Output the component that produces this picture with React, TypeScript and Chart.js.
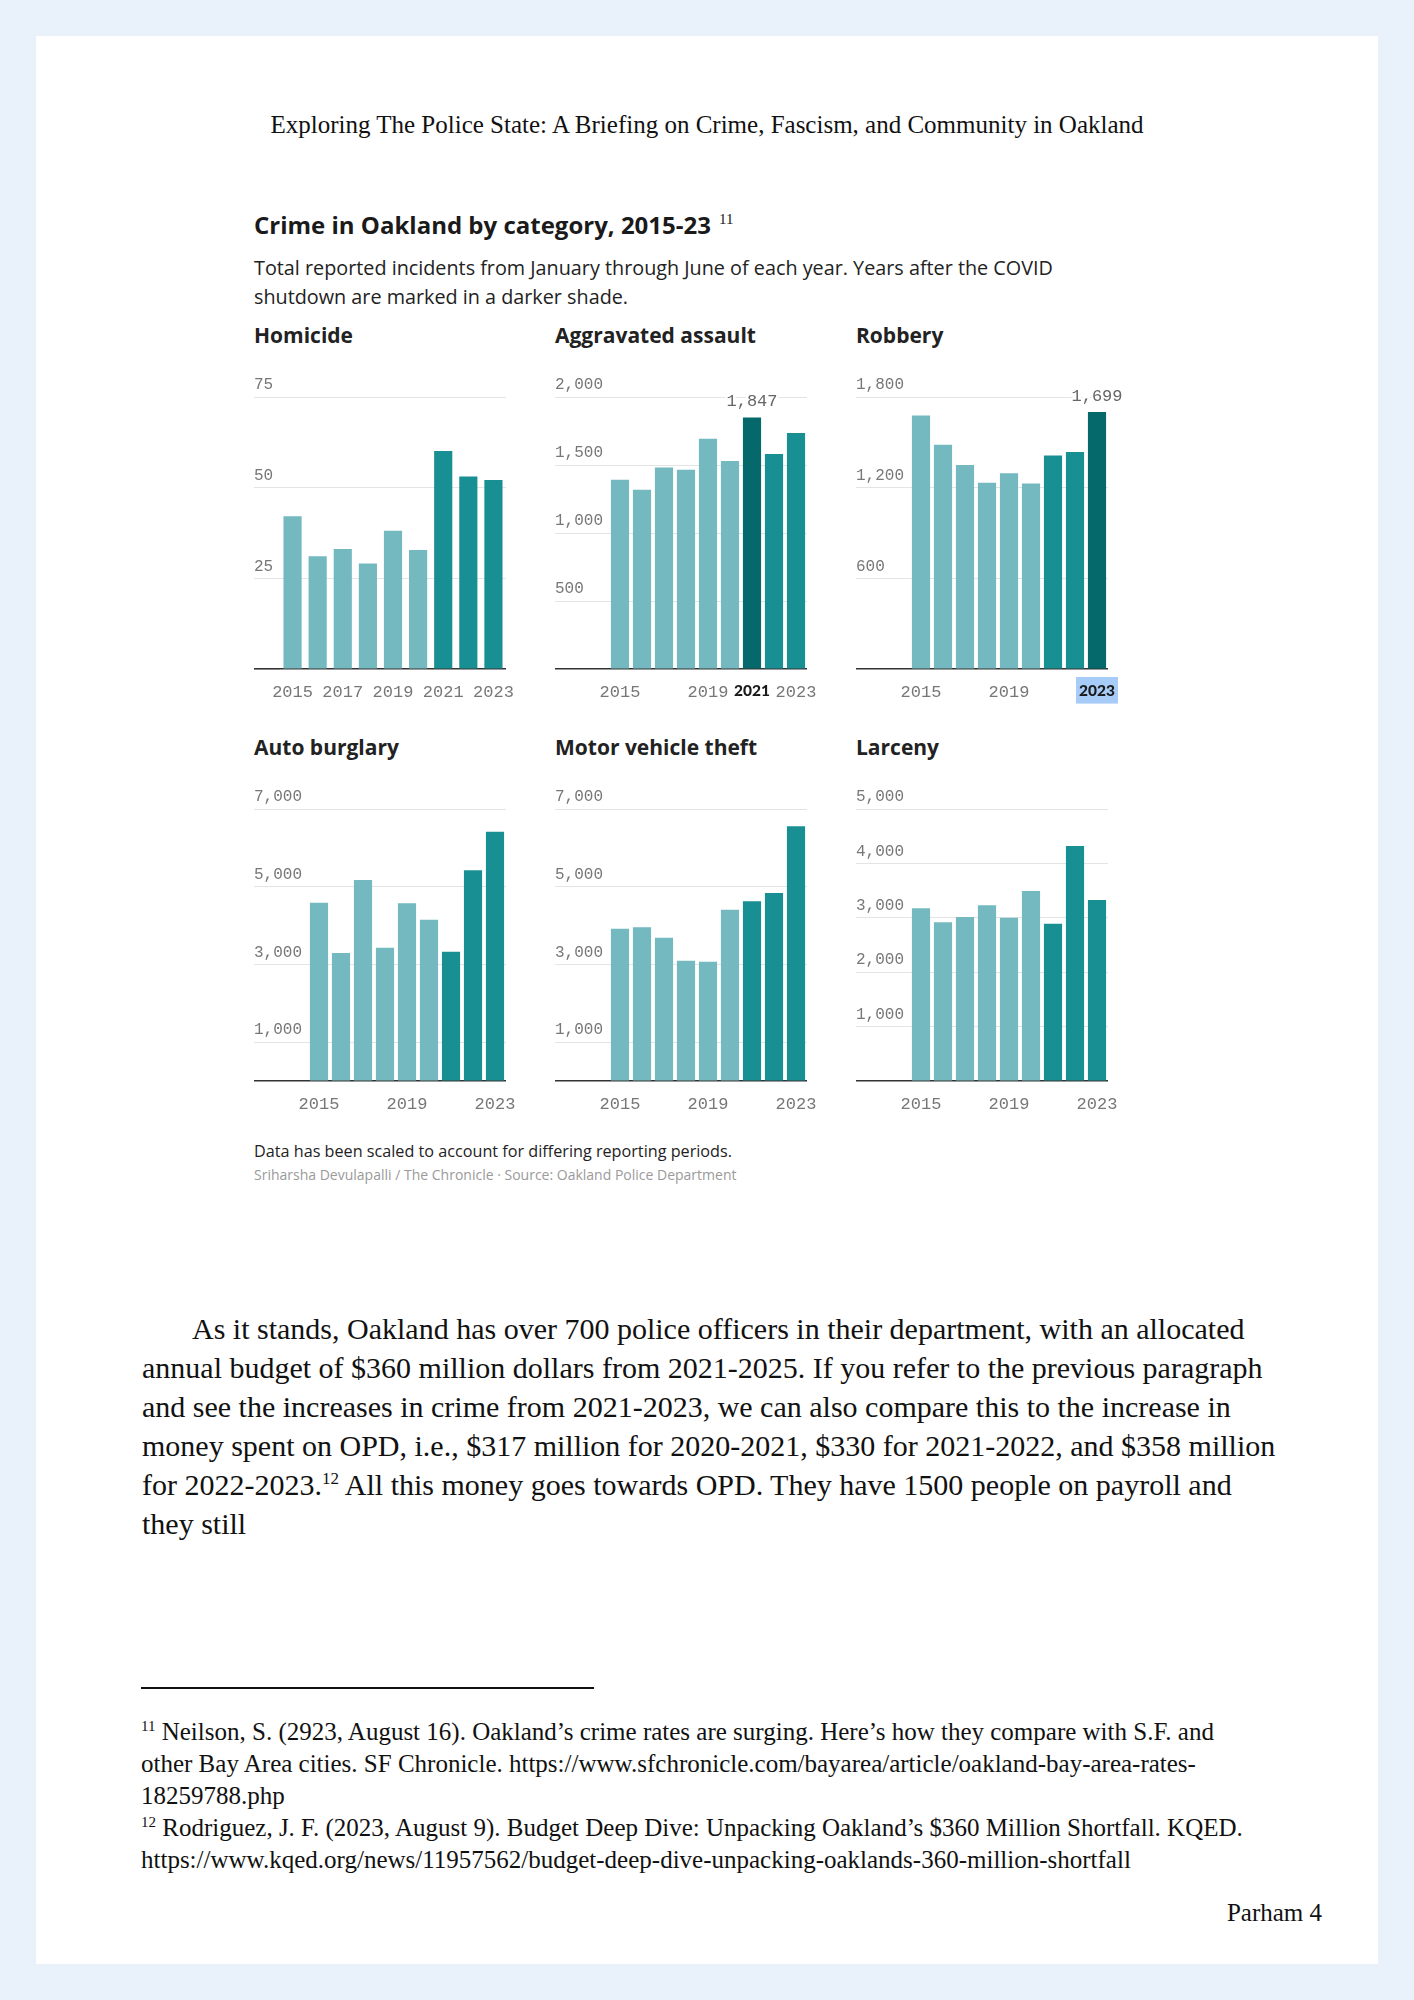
import React, { useEffect, useRef } from 'react';
import { Chart, registerables } from 'chart.js';

Chart.register(...registerables);

// ---------- DATA ----------
const years = ['2015', '2016', '2017', '2018', '2019', '2020', '2021', '2022', '2023'];

const homicide = [42, 31, 33, 29, 38, 32.7, 60, 53, 52];
const aggravatedAssault = [1390, 1316, 1480, 1463, 1691, 1527, 1847, 1578, 1733];
const robbery = [1676, 1482, 1348, 1231, 1293, 1226, 1410, 1434, 1699];
const autoBurglary = [4581, 3286, 5164, 3423, 4564, 4143, 3320, 5413, 6408];
const motorVehicleTheft = [3912, 3946, 3680, 3088, 3063, 4401, 4615, 4830, 6545];
const larceny = [3168, 2911, 3009, 3223, 2996, 3487, 2886, 4314, 3321];

const homicideTicks = [0, 25, 50, 75];
const assaultTicks = [0, 500, 1000, 1500, 2000];
const robberyTicks = [0, 600, 1200, 1800];
const autoTicks = [0, 1000, 3000, 5000, 7000];
const mvtTicks = [0, 1000, 3000, 5000, 7000];
const larcenyTicks = [0, 1000, 2000, 3000, 4000, 5000];

const homicideYearLabels = ['2015', '2017', '2019', '2021', '2023'];
const assaultYearLabels = ['2015', '2019', '2021', '2023'];
const defaultYearLabels = ['2015', '2019', '2023'];

// 0 = before COVID, 1 = after COVID shutdown, 2 = highlighted peak
const homicideShade = [0, 0, 0, 0, 0, 0, 1, 1, 1];
const assaultShade = [0, 0, 0, 0, 0, 0, 2, 1, 1];
const robberyShade = [0, 0, 0, 0, 0, 0, 1, 1, 2];
const autoShade = [0, 0, 0, 0, 0, 0, 1, 1, 1];
const mvtShade = [0, 0, 0, 0, 0, 0, 1, 1, 1];
const larcenyShade = [0, 0, 0, 0, 0, 0, 1, 1, 1];

// ---------- STYLE ----------
const SHADES = ['#73b9bf', '#188f92', '#05686b'];
const MONO = '"Liberation Mono", "DejaVu Sans Mono", monospace';
const SANS = '"Open Sans", Lato, sans-serif';
const BOLDSANS = 'Lato, "Open Sans", sans-serif';
const SERIF = '"Liberation Serif", "Times New Roman", serif';
const CW = 276;
const PLOT_W = 252;
const PAD_TOP = 26;
const PLOT_H = 272;
const XAXIS_H = 40;
const CH = PAD_TOP + PLOT_H + XAXIS_H;

const valueLabelPlugin = {
  id: 'valueLabel',
  afterDatasetsDraw(chart: any, _args: any, opts: any) {
    if (opts == null || opts.index == null || opts.index < 0) return;
    const el = chart.getDatasetMeta(0).data[opts.index];
    const v = chart.data.datasets[0].data[opts.index] as number;
    const txt = v.toLocaleString('en-US');
    const ctx = chart.ctx;
    ctx.save();
    ctx.font = `17px ${MONO}`;
    ctx.textAlign = 'center';
    ctx.textBaseline = 'middle';
    ctx.lineWidth = 5;
    ctx.strokeStyle = '#ffffff';
    ctx.lineJoin = 'round';
    ctx.strokeText(txt, el.x, el.y - 16);
    ctx.fillStyle = '#666666';
    ctx.fillText(txt, el.x, el.y - 16);
    ctx.restore();
  },
};

type PanelDef = {
  title: string;
  values: number[];
  ticks: number[];
  yearLabels: string[];
  shades: number[];
  left: number;
  gridTop: number;
  axisW: number;
  boldYear?: string;
  highlightYear?: boolean;
  annotate?: number;
};

const ROW1 = 397;
const ROW2 = 809;

const panels: PanelDef[] = [
  { title: 'Homicide', values: homicide, ticks: homicideTicks, yearLabels: homicideYearLabels, shades: homicideShade, left: 254, gridTop: ROW1, axisW: 26 },
  { title: 'Aggravated assault', values: aggravatedAssault, ticks: assaultTicks, yearLabels: assaultYearLabels, shades: assaultShade, left: 555, gridTop: ROW1, axisW: 54, boldYear: '2021', annotate: 6 },
  { title: 'Robbery', values: robbery, ticks: robberyTicks, yearLabels: defaultYearLabels, shades: robberyShade, left: 856, gridTop: ROW1, axisW: 54, boldYear: '2023', highlightYear: true, annotate: 8 },
  { title: 'Auto burglary', values: autoBurglary, ticks: autoTicks, yearLabels: defaultYearLabels, shades: autoShade, left: 254, gridTop: ROW2, axisW: 54 },
  { title: 'Motor vehicle theft', values: motorVehicleTheft, ticks: mvtTicks, yearLabels: defaultYearLabels, shades: mvtShade, left: 555, gridTop: ROW2, axisW: 54 },
  { title: 'Larceny', values: larceny, ticks: larcenyTicks, yearLabels: defaultYearLabels, shades: larcenyShade, left: 856, gridTop: ROW2, axisW: 54 },
];

function BarPanel({ p }: { p: PanelDef }) {
  const ref = useRef<HTMLCanvasElement>(null);
  useEffect(() => {
    if (!ref.current) return;
    const maxV = p.ticks[p.ticks.length - 1];
    const chart = new Chart(ref.current, {
      type: 'bar',
      data: {
        labels: years,
        datasets: [
          {
            data: p.values,
            backgroundColor: p.shades.map((s) => SHADES[s]),
            borderWidth: 0,
            barThickness: 17.5,
          },
        ],
      },
      plugins: [valueLabelPlugin],
      options: {
        responsive: false,
        animation: false,
        devicePixelRatio: 1,
        layout: { padding: { top: PAD_TOP, right: CW - PLOT_W, left: 0, bottom: 0 } },
        plugins: {
          legend: { display: false },
          tooltip: { enabled: false },
          // @ts-ignore
          valueLabel: { index: p.annotate ?? -1 },
        },
        scales: {
          x: {
            type: 'category',
            offset: true,
            grid: { display: false },
            border: { display: false },
            afterFit: (scale: any) => {
              scale.height = XAXIS_H;
            },
            ticks: {
              autoSkip: false,
              maxRotation: 0,
              minRotation: 0,
              padding: 5,
              callback: (_v: any, i: number) => (p.yearLabels.includes(years[i]) ? years[i] : ''),
              font: (c: any) =>
                p.boldYear && years[c.index] === p.boldYear
                  ? { family: BOLDSANS, size: 15.5, weight: '900' }
                  : { family: MONO, size: 17, weight: 'normal' },
              color: (c: any) => (p.boldYear && years[c.index] === p.boldYear ? '#1a1a1a' : '#777777'),
              showLabelBackdrop: (c: any) => !!(p.highlightYear && years[c.index] === p.boldYear),
              backdropColor: '#a8ccf8',
              backdropPadding: { left: 3, right: 3, top: 5, bottom: 3 },
            } as any,
          },
          y: {
            type: 'linear',
            min: 0,
            max: maxV,
            border: { display: false },
            afterBuildTicks: (scale: any) => {
              scale.ticks = p.ticks.map((v) => ({ value: v }));
            },
            afterFit: (scale: any) => {
              scale.width = p.axisW;
            },
            grid: {
              drawTicks: true,
              tickLength: p.axisW,
              color: (c: any) => (c.tick && c.tick.value === 0 ? '#333333' : '#e4e4e4'),
              lineWidth: (c: any) => (c.tick && c.tick.value === 0 ? 1.6 : 1),
            },
            ticks: {
              crossAlign: 'far',
              padding: 0,
              labelOffset: -12,
              color: '#777777',
              font: { family: MONO, size: 16 },
              callback: (v: any) => (Number(v) === 0 ? '' : Number(v).toLocaleString('en-US')),
            },
          },
        },
      },
    } as any);
    return () => chart.destroy();
  }, []);

  const titleTop = p.gridTop === ROW1 ? 320 : 732;
  return (
    <>
      <div
        style={{
          position: 'absolute',
          left: p.left,
          top: titleTop,
          fontFamily: SANS,
          fontWeight: 700,
          fontSize: 21,
          lineHeight: '30px',
          color: '#222',
          whiteSpace: 'nowrap',
        }}
      >
        {p.title}
      </div>
      <canvas
        ref={ref}
        width={CW}
        height={CH}
        style={{ position: 'absolute', left: p.left, top: p.gridTop - PAD_TOP, width: CW, height: CH }}
      />
    </>
  );
}

const bodyLines = [
  'As it stands, Oakland has over 700 police officers in their department, with an allocated',
  'annual budget of $360 million dollars from 2021-2025. If you refer to the previous paragraph',
  'and see the increases in crime from 2021-2023, we can also compare this to the increase in',
  'money spent on OPD, i.e., $317 million for 2020-2021, $330 for 2021-2022, and $358 million',
];

export default function App() {
  const abs = (o: React.CSSProperties): React.CSSProperties => ({ position: 'absolute', whiteSpace: 'nowrap', ...o });
  return (
    <div style={{ position: 'absolute', left: 0, top: 0, width: 1414, height: 2000, background: '#e9f1fb', overflow: 'hidden' }}>
      <div style={{ position: 'absolute', left: 36, top: 36, width: 1342, height: 1928, background: '#ffffff' }} />

      <div style={abs({ left: 0, width: 1414, top: 109, textAlign: 'center', fontFamily: SERIF, fontSize: 25, lineHeight: '32px', color: '#111' })}>
        Exploring The Police State: A Briefing on Crime, Fascism, and Community in Oakland
      </div>

      <div style={abs({ left: 254, top: 202, fontFamily: SANS, fontWeight: 700, fontSize: 24, lineHeight: '34px', color: '#1a1a1a' })}>
        Crime in Oakland by category, 2015-23
        <span style={{ fontFamily: SERIF, fontWeight: 400, fontSize: 15, verticalAlign: '10px', marginLeft: 8 }}>11</span>
      </div>

      <div style={abs({ left: 254, top: 253, fontFamily: SANS, fontSize: 19.8, lineHeight: '29px', color: '#222' })}>
        Total reported incidents from January through June of each year. Years after the COVID
        <br />
        shutdown are marked in a darker shade.
      </div>

      {panels.map((p) => (
        <BarPanel key={p.title} p={p} />
      ))}

      <div style={abs({ left: 254, top: 1139, fontFamily: SANS, fontSize: 16.2, lineHeight: '24px', color: '#222' })}>
        Data has been scaled to account for differing reporting periods.
      </div>
      <div style={abs({ left: 254, top: 1165, fontFamily: SANS, fontSize: 14, lineHeight: '20px', color: '#9a9a9a' })}>
        Sriharsha Devulapalli / The Chronicle · Source: Oakland Police Department
      </div>

      <div style={abs({ left: 142, top: 1309, fontFamily: SERIF, fontSize: 30, lineHeight: '39px', color: '#111' })}>
        {bodyLines.map((l, i) => (
          <div key={i} style={{ paddingLeft: i === 0 ? 50 : 0 }}>
            {l}
          </div>
        ))}
        <div>
          for 2022-2023.<sup style={{ fontSize: 17, verticalAlign: '11px', lineHeight: 0 }}>12</sup> All this money goes towards OPD. They have 1500 people on payroll and
        </div>
        <div>they still</div>
      </div>

      <div style={{ position: 'absolute', left: 141, top: 1687, width: 453, height: 1.5, background: '#111' }} />

      <div style={abs({ left: 141, top: 1716, fontFamily: SERIF, fontSize: 25, lineHeight: '32px', color: '#111' })}>
        <div>
          <sup style={{ fontSize: 15, verticalAlign: '9px', lineHeight: 0 }}>11</sup> Neilson, S. (2923, August 16). Oakland’s crime rates are surging. Here’s how they compare with S.F. and
        </div>
        <div>other Bay Area cities. SF Chronicle. https://www.sfchronicle.com/bayarea/article/oakland-bay-area-rates-</div>
        <div>18259788.php</div>
        <div>
          <sup style={{ fontSize: 15, verticalAlign: '9px', lineHeight: 0 }}>12</sup> Rodriguez, J. F. (2023, August 9). Budget Deep Dive: Unpacking Oakland’s $360 Million Shortfall. KQED.
        </div>
        <div>https://www.kqed.org/news/11957562/budget-deep-dive-unpacking-oaklands-360-million-shortfall</div>
      </div>

      <div style={abs({ right: 1414 - 1322, top: 1897, fontFamily: SERIF, fontSize: 25, lineHeight: '32px', color: '#111' })}>
        Parham 4
      </div>
    </div>
  );
}
